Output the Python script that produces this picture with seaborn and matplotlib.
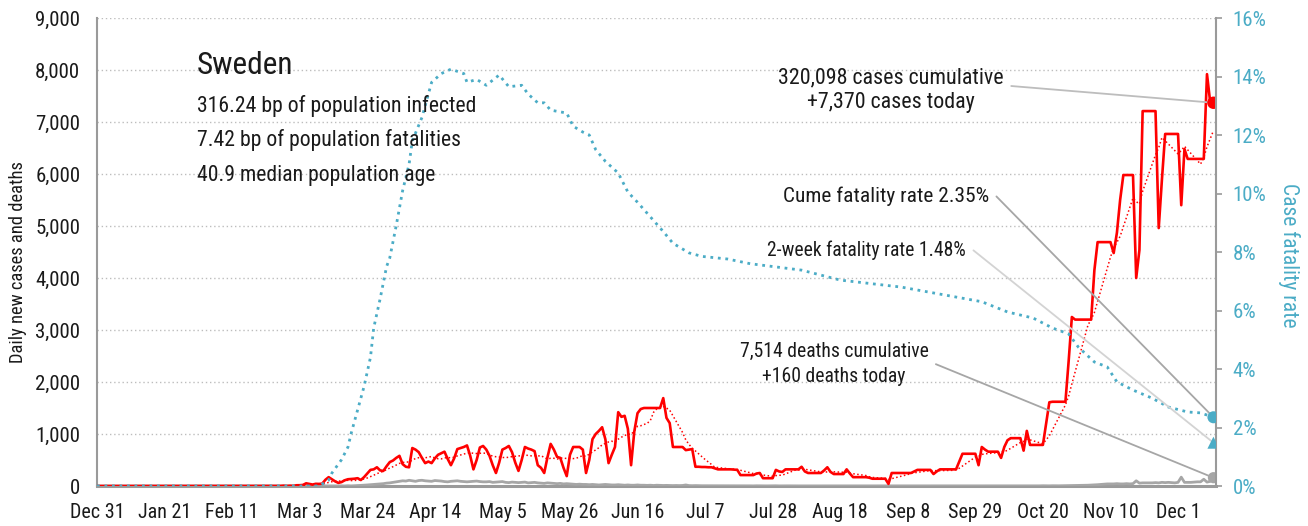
import matplotlib
matplotlib.use("Agg")
import matplotlib.pyplot as plt
from matplotlib.ticker import FuncFormatter, MultipleLocator
import numpy as np
import pandas as pd
import seaborn as sns

# ---------------------------------------------------------------- data
START = "2019-12-31"

# Daily new confirmed cases, Dec 31 2019 .. Dec 12 2020
cases_pre_march = [0] * 31 + [1] + [0] * 25 + [1, 6, 1, 5]
cases_mar = [1, 14, 15, 20, 52, 40, 28, 42, 40, 45,
             120, 170, 130, 90, 60, 75, 110, 130, 135, 140,
             150, 115, 170, 240, 310, 320, 360, 300, 290, 380, 460]
cases_apr = [490, 540, 580, 420, 370, 360, 730, 700, 650, 540,
             440, 470, 440, 530, 600, 630, 660, 520, 400, 530,
             710, 730, 750, 780, 580, 320, 500, 740, 770, 700]
cases_may = [580, 400, 250, 450, 700, 730, 770, 650, 450, 290,
             500, 750, 720, 700, 670, 400, 350, 250, 550, 810,
             700, 560, 540, 350, 190, 600, 750, 750, 750, 700, 250]
cases_jun = [500, 900, 1000, 1060, 1130, 900, 440, 600, 750, 1420,
             1330, 1350, 1100, 400, 1050, 1400, 1480, 1500, 1500, 1500,
             1500, 1500, 1500, 1690, 1310, 1210, 750, 750, 750, 750]
cases_jul = [690, 700, 710, 370, 370, 365, 365, 360, 360, 340,
             320, 320, 320, 320, 320, 315, 310, 210, 210, 210,
             210, 210, 240, 250, 150, 150, 150, 150, 310, 280, 270]
cases_aug = [320, 320, 320, 320, 320, 370, 280, 250, 250, 250,
             250, 250, 300, 360, 270, 230, 230, 230, 230, 320,
             240, 170, 170, 170, 170, 170, 160, 140, 140, 140, 140]
cases_sep = [140, 40, 250, 250, 250, 250, 250, 250, 250, 280,
             310, 310, 310, 310, 310, 230, 280, 320, 320, 320,
             320, 320, 320, 470, 620, 620, 620, 620, 620, 400]
cases_oct = [750, 700, 660, 660, 660, 660, 540, 750, 880, 920,
             920, 920, 920, 680, 1060, 790, 790, 790, 790, 790,
             1200, 1610, 1620, 1620, 1620, 1620, 1620, 2400, 3250, 3200, 3200]
cases_nov = [3200, 3200, 3200, 3200, 4150, 4690, 4690, 4690, 4690, 4690,
             4480, 4870, 5500, 5980, 5980, 5980, 5980, 4000, 4540, 7210,
             7210, 7210, 7210, 7210, 4960, 5900, 6770, 6770, 6770, 6770]
cases_dec = [6770, 5400, 6480, 6290, 6290, 6290, 6290, 6290, 6290, 7920,
             7380, 7370]

# Daily new deaths, same dates
deaths_pre_march = [0] * 61
deaths_mar = [0] * 10 + [1, 0, 1, 1, 2, 3, 1, 5, 2, 6,
                         10, 12, 15, 20, 25, 30, 35, 40, 45, 55, 60]
deaths_apr = [70, 80, 90, 100, 95, 110, 100, 90, 105,
              110, 100, 95, 90, 105, 100, 95, 85, 80, 90,
              95, 100, 90, 85, 80, 85, 90, 95, 85, 80, 80]
deaths_may = [85, 70, 75, 80, 85, 70, 65, 75, 70,
              65, 70, 75, 60, 65, 70, 60, 55, 50, 60,
              55, 50, 45, 50, 40, 45, 40, 35, 30, 35, 30, 30]
deaths_jun = [25, 30, 25, 20, 25, 30, 25, 20,
              20, 25, 20, 15, 20, 15, 15, 20, 15, 15,
              12, 15, 10, 15, 12, 10, 12, 10, 8, 10, 8, 10]
deaths_jul = [20, 8, 6, 8, 6, 5, 5, 4,
              5, 4, 4, 3, 5, 4, 3, 3, 4, 5, 3, 4, 3, 2, 4, 3, 3, 2, 3, 2, 4, 2, 3]
deaths_aug = [2, 3, 2, 1, 2, 3, 2, 2, 1, 2, 3, 2, 1, 2, 2, 3, 1, 2, 2, 1,
              2, 3, 2, 1, 2, 2, 1, 2, 2, 1, 2]
deaths_sep = [1, 2, 1, 2, 2, 1, 2, 1, 1, 2, 2, 1, 2, 1, 2, 2, 1, 1, 2, 2,
              1, 2, 2, 3, 2, 2, 1, 2, 3, 2]
deaths_oct = [2, 3, 2, 2, 3, 2, 3, 4, 2, 3, 3, 2, 4, 3, 3, 4, 3, 4, 3, 5,
              4, 3, 5, 4, 4, 5, 5, 6, 8, 8, 10]
deaths_nov = [12, 10, 15, 18, 20, 25,
              30, 35, 40, 40, 40, 45, 40, 40, 45, 40, 45,
              100,
              55, 60, 60, 60, 60, 65, 60, 70, 65, 70, 65, 60]
deaths_dec = [70, 170, 70, 70, 70, 75, 80, 80, 130, 75, 90, 160]

# Case fatality rate (%), day offset from Dec 31 2019
cfr_day = [0, 69, 72, 73, 76, 78, 79, 81, 83, 85, 86, 88, 90, 91, 93, 95, 97,
           98, 101, 103, 104, 107, 110, 114, 115, 118, 121, 125, 128, 132,
           134, 137, 139, 141, 146, 148, 151, 153, 155, 158, 162, 165, 168,
           172, 176, 179, 184, 188, 196, 203, 219, 231, 250, 265, 275, 283,
           291, 297, 302, 305, 310, 314, 317, 322, 328, 333, 339, 343, 347]
cfr_pct = [0.0, 0.0, 0.2, 0.44, 0.9, 1.33, 1.8, 2.6, 3.4, 4.4, 5.4, 6.4, 7.5,
           7.8, 8.9, 10.1, 11.0, 11.8, 12.6, 13.4, 13.8, 14.1, 14.25, 14.1,
           13.8, 13.9, 13.7, 14.05, 13.65, 13.7, 13.4, 13.1, 13.1, 12.85,
           12.75, 12.3, 12.1, 12.0, 11.5, 11.1, 10.7, 10.05, 9.7, 9.2, 8.7,
           8.3, 7.97, 7.85, 7.76, 7.6, 7.38, 7.04, 6.8, 6.5, 6.3, 5.95, 5.74,
           5.4, 5.2, 4.75, 4.24, 4.07, 3.56, 3.28, 3.0, 2.7, 2.53, 2.5, 2.35]

two_week_cfr_pct = 1.48
cume_cfr_pct = 2.35
cases_cumulative = 320098
deaths_cumulative = 7514

country = "Sweden"
info_lines = ["316.24 bp of population infected",
              "7.42 bp of population fatalities",
              "40.9 median population age"]

tick_labels = ["Dec 31", "Jan 21", "Feb 11", "Mar 3", "Mar 24", "Apr 14",
               "May 5", "May 26", "Jun 16", "Jul 7", "Jul 28", "Aug 18",
               "Sep 8", "Sep 29", "Oct 20", "Nov 10", "Dec 1"]

# ---------------------------------------------------------------- frames
daily_cases = (cases_pre_march + cases_mar + cases_apr + cases_may + cases_jun
               + cases_jul + cases_aug + cases_sep + cases_oct + cases_nov
               + cases_dec)
daily_deaths = (deaths_pre_march + deaths_mar + deaths_apr + deaths_may
                + deaths_jun + deaths_jul + deaths_aug + deaths_sep
                + deaths_oct + deaths_nov + deaths_dec)

start = pd.Timestamp(START)
dates = pd.date_range(start, periods=len(daily_cases), freq="D")
df = pd.DataFrame({"date": dates, "cases": daily_cases, "deaths": daily_deaths})
df["avg7"] = df["cases"].rolling(7, min_periods=1).mean()

cfr = pd.DataFrame({"date": start + pd.to_timedelta(cfr_day, unit="D"),
                    "cfr": np.array(cfr_pct) / 100.0})

last = df.iloc[-1]
last_date = last["date"]

# ---------------------------------------------------------------- style
RED = "#FF0000"
BLUE = "#4BACC6"
GRAY = "#A6A6A6"
AXIS = "#9A9A9A"
TEXT = "#1A1A1A"

sns.set_theme(style="white")
plt.rcParams["font.family"] = ["Roboto Condensed", "Liberation Sans Narrow",
                               "DejaVu Sans"]
plt.rcParams["font.stretch"] = "condensed"

W, H = 1308, 526
fig = plt.figure(figsize=(W / 100, H / 100), dpi=100)
fig.patch.set_facecolor("white")
ax = fig.add_axes([97 / W, 1 - 486 / H, (1216 - 97) / W, (486 - 18) / H])
ax2 = ax.twinx()


def fx(px):
    return px / W


def fy(py):
    return 1 - py / H


# ---------------------------------------------------------------- series
sns.lineplot(data=df, x="date", y="deaths", ax=ax, color=GRAY, lw=2.0,
             zorder=3)
sns.lineplot(data=df, x="date", y="cases", ax=ax, color=RED, lw=1.9,
             zorder=4)
sns.lineplot(data=df, x="date", y="avg7", ax=ax, color=RED, lw=1.1,
             ls=(0, (1, 1.6)), zorder=4)
sns.lineplot(data=cfr, x="date", y="cfr", ax=ax2, color=BLUE, lw=2.0,
             ls=(0, (1, 1.7)), zorder=3)

# end-of-series markers
end_pts = pd.DataFrame({"date": [last_date], "cases": [last["cases"]],
                        "deaths": [last["deaths"]]})
sns.scatterplot(data=end_pts, x="date", y="cases", ax=ax, color=RED, s=80,
                edgecolor="none", zorder=6)
sns.scatterplot(data=end_pts, x="date", y="deaths", ax=ax, color=GRAY, s=65,
                edgecolor="none", zorder=6)
rate_pts = pd.DataFrame({"date": [last_date, last_date],
                         "rate": [cume_cfr_pct / 100, two_week_cfr_pct / 100],
                         "kind": ["cume", "two_week"]})
sns.scatterplot(data=rate_pts, x="date", y="rate", style="kind",
                markers={"cume": "o", "two_week": "^"}, ax=ax2, color=BLUE,
                s=75, edgecolor="none", legend=False, zorder=6)

# ---------------------------------------------------------------- axes
ax.set_xlim(start, start + pd.Timedelta(days=347.8))
ax.set_ylim(0, 9000)
ax2.set_ylim(0, 0.16)

tick_dates = pd.date_range(start, periods=len(tick_labels), freq="21D")
ax.set_xticks(tick_dates)
ax.set_xticklabels(tick_labels)
ax.yaxis.set_major_locator(MultipleLocator(1000))
ax.yaxis.set_major_formatter(FuncFormatter(lambda v, p: f"{v:,.0f}"))
ax2.yaxis.set_major_locator(MultipleLocator(0.02))
ax2.yaxis.set_major_formatter(FuncFormatter(lambda v, p: f"{v * 100:.0f}%"))

ax.set_xlabel("")
ax.set_ylabel("")
ax2.set_ylabel("")

ax.yaxis.grid(True, color="#BDBDBD", ls=(0, (1, 2)), lw=1.0)
ax.xaxis.grid(False)
ax2.grid(False)
ax.set_axisbelow(True)

for s in ("top", "right"):
    ax.spines[s].set_visible(False)
for s in ("top", "left", "bottom"):
    ax2.spines[s].set_visible(False)
ax.spines["left"].set_color(AXIS)
ax.spines["left"].set_linewidth(1.5)
ax.spines["bottom"].set_color(AXIS)
ax.spines["bottom"].set_linewidth(2.2)
ax2.spines["right"].set_color(AXIS)
ax2.spines["right"].set_linewidth(1.5)

ax.tick_params(axis="y", length=0, pad=12, labelsize=15, labelcolor=TEXT)
ax.tick_params(axis="x", length=5, width=1.2, color=AXIS, pad=7,
               labelsize=14.5, labelcolor=TEXT)
ax2.tick_params(axis="y", length=4, width=1.2, color=AXIS, pad=8,
                labelsize=15, labelcolor=BLUE)

fig.text(fx(18), fy(262), "Daily new cases and deaths", rotation=90,
         ha="center", va="center", fontsize=13.3, color=TEXT)
fig.text(fx(1289), fy(255), "Case fatality rate", rotation=-90,
         ha="center", va="center", fontsize=15.5, color=BLUE)

# ---------------------------------------------------------------- info block
fig.text(fx(197), fy(66), country, ha="left", va="center", fontsize=22.5,
         color=TEXT)
for py, line in zip((106, 140, 175), info_lines):
    fig.text(fx(197), fy(py), line, ha="left", va="center", fontsize=15.7,
             color=TEXT)

# ---------------------------------------------------------------- callouts


def callout(axis, y, text, px, py, color, fontsize, ha, arm, relpos,
            spacing=1.2):
    axis.annotate(
        text, xy=(last_date, y), xycoords="data",
        xytext=(fx(px), fy(py)), textcoords="figure fraction",
        ha=ha, va="center", multialignment="center", fontsize=fontsize,
        color=TEXT, linespacing=spacing, zorder=5,
        arrowprops=dict(arrowstyle="-", color=color, lw=1.3,
                        shrinkA=3, shrinkB=0, relpos=relpos,
                        connectionstyle=f"arc,angleA=0,armA={arm},angleB=0,armB=0,rad=0"),
    )


callout(ax, last["cases"],
        f"{cases_cumulative:,} cases cumulative\n+{int(last['cases']):,} cases today",
        891, 90, "#BDBDBD", 15.8, "center", 0, (1, 0.6), spacing=1.25)
callout(ax2, cume_cfr_pct / 100,
        f"Cume fatality rate {cume_cfr_pct:.2f}%",
        989, 196, "#A6A6A6", 15.4, "right", 7, (1, 0.5))
callout(ax2, two_week_cfr_pct / 100,
        f"2-week fatality rate {two_week_cfr_pct:.2f}%",
        966, 250, "#D3D3D3", 14.1, "right", 7, (1, 0.5))
callout(ax, last["deaths"],
        f"{deaths_cumulative:,} deaths cumulative\n+{int(last['deaths']):,} deaths today",
        834, 364, "#A6A6A6", 14.1, "center", 7, (1, 0.5), spacing=1.4)

fig.savefig("out.png", dpi=100, facecolor="white")
